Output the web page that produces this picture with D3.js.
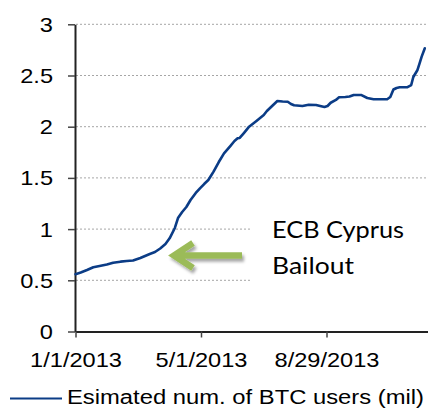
<!DOCTYPE html>
<html><head><meta charset="utf-8">
<script src="https://cdn.jsdelivr.net/npm/d3@7"></script>
<style>html,body{margin:0;padding:0;background:#fff;} svg{display:block;}</style>
</head><body>
<script>
// ---- data ----
const dates = ["2013-01-01","2013-01-06","2013-01-12","2013-01-18","2013-01-24","2013-01-31","2013-02-06","2013-02-13","2013-02-19","2013-02-25",
"2013-03-04","2013-03-13","2013-03-18","2013-03-23","2013-03-28","2013-04-01","2013-04-06","2013-04-09","2013-04-13","2013-04-17",
"2013-04-21","2013-04-26","2013-04-30","2013-05-04","2013-05-08","2013-05-11","2013-05-13","2013-05-18","2013-05-23","2013-05-29",
"2013-06-02","2013-06-05","2013-06-07","2013-06-11","2013-06-16","2013-06-23","2013-06-30","2013-07-03","2013-07-06","2013-07-13",
"2013-07-18","2013-07-23","2013-07-26","2013-07-29","2013-08-06","2013-08-12","2013-08-19","2013-08-27","2013-08-30","2013-09-02",
"2013-09-07","2013-09-10","2013-09-16","2013-09-20","2013-09-24","2013-10-01","2013-10-07","2013-10-13","2013-10-19","2013-10-26",
"2013-10-29","2013-11-01","2013-11-04","2013-11-07","2013-11-14","2013-11-18","2013-11-20","2013-11-24","2013-11-26","2013-11-28","2013-12-01"];
const users = [0.56,0.576,0.60,0.627,0.64,0.654,0.672,0.682,0.688,0.693,
0.718,0.757,0.776,0.811,0.854,0.91,1.011,1.108,1.167,1.216,
1.284,1.353,1.398,1.44,1.479,1.528,1.561,1.655,1.74,1.811,
1.86,1.887,1.89,1.938,2.0,2.056,2.114,2.153,2.183,2.251,
2.246,2.244,2.222,2.209,2.202,2.215,2.212,2.192,2.202,2.234,
2.261,2.287,2.29,2.295,2.31,2.31,2.28,2.268,2.268,2.268,
2.29,2.363,2.378,2.385,2.385,2.407,2.485,2.554,2.619,2.684,2.766];
const xTickLabels = ["1/1/2013","5/1/2013","8/29/2013"];
const xDomainLabels = ["1/1/2013","12/27/2013"];
const yTicks = [0,0.5,1,1.5,2,2.5,3];
const seriesName = "Esimated num. of BTC users (mil)";
const annotationLines = ["ECB Cyprus","Bailout"];

// ---- setup ----
const W=428,H=409;
const SX=1.18;
const FONT="'Liberation Sans', Arial, sans-serif";
const LINE_COLOR="#0b3c86";
const svg=d3.select("body").append("svg").attr("width",W).attr("height",H);
const parse=d3.utcParse("%Y-%m-%d");
const parseTick=d3.utcParse("%m/%d/%Y");
const fmtTick=d3.utcFormat("%-m/%-d/%Y");
const x=d3.scaleUtc().domain(xDomainLabels.map(parseTick)).range([75.5,452]);
const y=d3.scaleLinear().domain([0,3]).range([331.5,24.3]);
const data=dates.map((d,i)=>({date:parse(d),v:users[i]}));

const defs=svg.append("defs");
const f=defs.append("filter").attr("id","shadow").attr("x","-20%").attr("y","-50%").attr("width","150%").attr("height","200%");
f.append("feDropShadow").attr("dx",2).attr("dy",3).attr("stdDeviation",1.8).attr("flood-color","#000").attr("flood-opacity",0.35);

// gridlines
svg.append("g").selectAll("line").data(yTicks.filter(t=>t>0)).join("line")
  .attr("x1",76).attr("x2",W).attr("y1",d=>y(d)).attr("y2",d=>y(d))
  .attr("stroke","#a6a6a6").attr("stroke-width",1).attr("stroke-dasharray","2,2");

// white box behind annotation
svg.append("rect").attr("x",252).attr("y",198).attr("width",W-252).attr("height",100).attr("fill","#fff");

// axes
const yAxis=svg.append("g").attr("transform","translate(75,0)")
  .call(d3.axisLeft(y).tickValues(yTicks).tickFormat(d3.format("")).tickSize(7).tickSizeOuter(0));
yAxis.select(".domain").attr("stroke","#222").attr("stroke-width",2);
yAxis.selectAll(".tick line").attr("stroke","#444").attr("stroke-width",1.5);
yAxis.selectAll(".tick text").attr("font-family",FONT).attr("font-size",20).attr("fill","#000")
  .attr("x",-22/SX).attr("dy","0.35em").attr("transform",`scale(${SX},1)`);

const xAxis=svg.append("g").attr("transform","translate(0,331.5)")
  .call(d3.axisBottom(x).tickValues(xTickLabels.map(parseTick)).tickFormat(fmtTick).tickSize(6).tickSizeOuter(0));
xAxis.select(".domain").attr("stroke","#222").attr("stroke-width",2);
xAxis.selectAll(".tick line").attr("stroke","#444").attr("stroke-width",1.5);
xAxis.selectAll(".tick text").attr("font-family",FONT).attr("font-size",20).attr("fill","#000")
  .attr("y",21.3).attr("dy","0.71em").attr("transform",`scale(${SX},1)`);

// series line
svg.append("path").datum(data)
  .attr("d",d3.line().x(d=>x(d.date)).y(d=>y(d.v)))
  .attr("fill","none").attr("stroke",LINE_COLOR).attr("stroke-width",2.6)
  .attr("stroke-linejoin","round").attr("stroke-linecap","round");

// arrow
svg.append("path")
  .attr("d","M193,243 L174,255.5 L193,268 M175,255.5 L242,255.5")
  .attr("fill","none").attr("stroke","#9bbb59").attr("stroke-width",6.5)
  .attr("stroke-linejoin","miter").attr("stroke-linecap","butt").attr("filter","url(#shadow)");

// annotation text
const ann=svg.append("g").attr("font-family","Lato, 'Open Sans', sans-serif").attr("font-size",24).attr("fill","#000");
ann.append("text").attr("x",272).attr("y",238).attr("textLength",132).attr("lengthAdjust","spacingAndGlyphs").text(annotationLines[0]);
ann.append("text").attr("x",272).attr("y",274).attr("textLength",82).attr("lengthAdjust","spacingAndGlyphs").text(annotationLines[1]);

// legend
svg.append("line").attr("x1",10).attr("x2",62).attr("y1",398.5).attr("y2",398.5)
  .attr("stroke",LINE_COLOR).attr("stroke-width",2.2);
svg.append("text").attr("x",67).attr("y",404).attr("textLength",357).attr("lengthAdjust","spacingAndGlyphs")
  .attr("font-family",FONT).attr("font-size",20).attr("fill","#000").text(seriesName);
</script>
</body></html>
